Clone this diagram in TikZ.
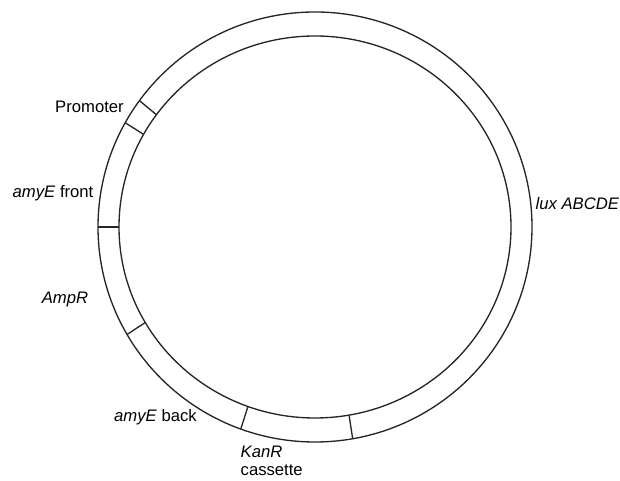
\documentclass[tikz,border=0pt]{standalone}
\usepackage{fontspec}
\setmainfont{Liberation Sans}
\begin{document}
\begin{tikzpicture}[x=0.6pt, y=0.6pt, line width=0.8pt,
        partlabel/.style={font=\fontsize{10}{11}\selectfont, inner sep=0pt}]
        \useasboundingbox (0,0) rectangle (620,481);

        % Plasmid ring
        \begin{scope}[shift={(315,254)}, draw=black!85]
            \draw (0,0) ellipse [x radius=217, y radius=215];
            \draw (0,0) ellipse [x radius=196, y radius=191];
            % Borders between the parts
            \foreach \a in {144, 151, 180, 210, 250, 280}
                \draw (\a:196 and 191) -- (\a:217 and 215);
        \end{scope}

        % Part names
        \node[partlabel] (prom) at (89.5, 374) {Promoter};
        \node[partlabel] (front) at (53, 288) {\textit{amyE} front};
        \node[partlabel] (amp) at (65, 181) {\textit{AmpR}};
        \node[partlabel] (back) at (155.5, 64) {\textit{amyE} back};
        \node[partlabel, anchor=west, align=left] (kan) at (240, 20) {\textit{KanR}\\cassette};
        \node[partlabel, anchor=west] (lux) at (535, 277) {\textit{lux ABCDE}};
    \end{tikzpicture}
\end{document}
